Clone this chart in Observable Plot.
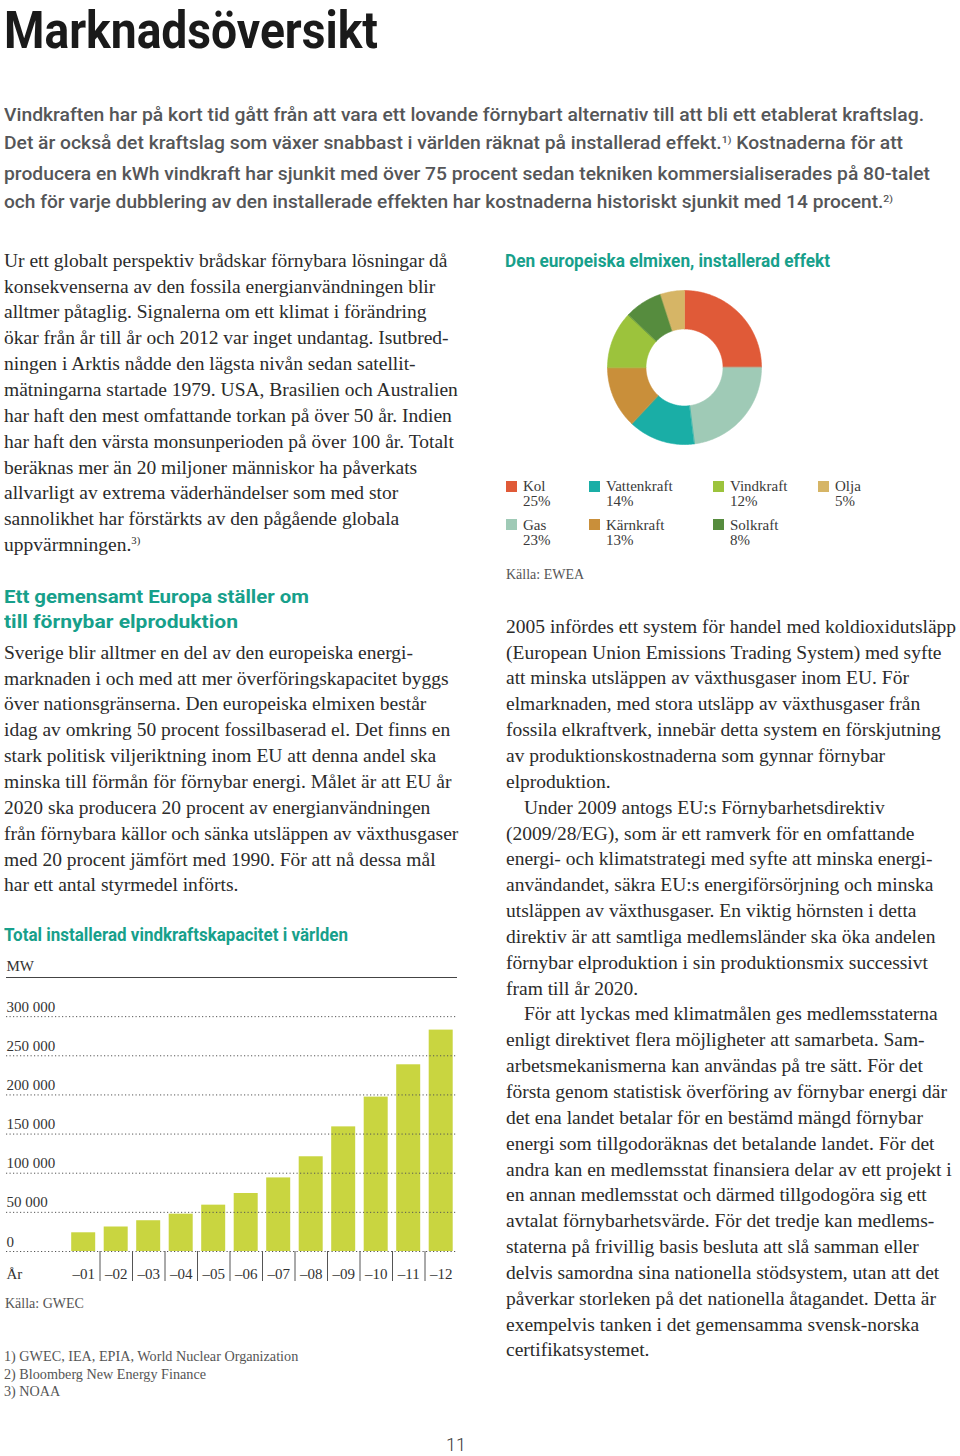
<!DOCTYPE html>
<html><head><meta charset="utf-8">
<script src="https://cdn.jsdelivr.net/npm/d3@7"></script>
<script src="https://cdn.jsdelivr.net/npm/@observablehq/plot@0.6"></script>
<style>
body{margin:0;background:#fff;}
#page{position:relative;width:960px;height:1456px;overflow:hidden;background:#fff;}
.abs{position:absolute;}
.serif{font-family:"Liberation Serif","Times New Roman",serif;color:#2b2b2b;}
.body{font-size:19.5px;line-height:25.85px;}
.body div{white-space:nowrap;}
.sans{font-family:"Liberation Sans Narrow","Roboto","Liberation Sans",sans-serif;}
.fit{display:inline-block;white-space:nowrap;transform-origin:0 0;}
.head{color:#17a08b;font-weight:700;font-size:18px;line-height:25.6px;}
.sup{font-size:0.55em;position:relative;top:-0.65em;}
.small{font-size:14.5px;line-height:17.4px;color:#555;}
</style></head>
<body><div id="page">
<div class="abs sans" style="left:4px;top:11.2px;font-size:52px;line-height:40px;font-weight:700;color:#1a1a1a;"><span class="fit" data-w="374">Marknadsöversikt</span></div>
<div class="abs sans" id="intro" style="left:4px;top:100.6px;font-size:17.5px;line-height:28.2px;font-weight:500;color:#555658;">
<div><span class="fit" data-w="920">Vindkraften har på kort tid gått från att vara ett lovande förnybart alternativ till att bli ett etablerat kraftslag.</span></div>
<div><span class="fit" data-w="899">Det är också det kraftslag som växer snabbast i världen räknat på installerad effekt.<span class="sup">1)</span> Kostnaderna för att</span></div>
<div><span class="fit" data-w="926">producera en kWh vindkraft har sjunkit med över 75 procent sedan tekniken kommersialiserades på 80-talet</span></div>
<div><span class="fit" data-w="889">och för varje dubblering av den installerade effekten har kostnaderna historiskt sjunkit med 14 procent.<span class="sup">2)</span></span></div>
</div>

<div class="abs serif body" style="left:4px;top:247.8px;">
<div>Ur ett globalt perspektiv brådskar förnybara lösningar då</div>
<div>konsekvenserna av den fossila energianvändningen blir</div>
<div>alltmer påtaglig. Signalerna om ett klimat i förändring</div>
<div>ökar från år till år och 2012 var inget undantag. Isutbred-</div>
<div>ningen i Arktis nådde den lägsta nivån sedan satellit-</div>
<div>mätningarna startade 1979. USA, Brasilien och Australien</div>
<div>har haft den mest omfattande torkan på över 50 år. Indien</div>
<div>har haft den värsta monsunperioden på över 100 år. Totalt</div>
<div>beräknas mer än 20 miljoner människor ha påverkats</div>
<div>allvarligt av extrema väderhändelser som med stor</div>
<div>sannolikhet har förstärkts av den pågående globala</div>
<div>uppvärmningen.<span class="sup">3)</span></div>
</div>

<div class="abs sans head" style="left:4px;top:583.8px;">
<div><span class="fit" data-w="305">Ett gemensamt Europa ställer om</span></div>
<div><span class="fit" data-w="234">till förnybar elproduktion</span></div>
</div>
<div class="abs serif body" style="left:4px;top:639.8px;">
<div>Sverige blir alltmer en del av den europeiska energi-</div>
<div>marknaden i och med att mer överföringskapacitet byggs</div>
<div>över nationsgränserna. Den europeiska elmixen består</div>
<div>idag av omkring 50 procent fossilbaserad el. Det finns en</div>
<div>stark politisk viljeriktning inom EU att denna andel ska</div>
<div>minska till förmån för förnybar energi. Målet är att EU år</div>
<div>2020 ska producera 20 procent av energianvändningen</div>
<div>från förnybara källor och sänka utsläppen av växthusgaser</div>
<div>med 20 procent jämfört med 1990. För att nå dessa mål</div>
<div>har ett antal styrmedel införts.</div>
</div>

<div class="abs sans head" style="left:4px;top:921.8px;"><span class="fit" data-w="344">Total installerad vindkraftskapacitet i världen</span></div>
<div class="abs" id="bars" style="left:0;top:950px;"></div>
<div class="abs serif small" style="left:5px;top:1296.4px;font-size:14px;line-height:16px;">Källa: GWEC</div>

<div class="abs serif small" style="left:4px;top:1348.1px;font-size:14.2px;">
<div>1) GWEC, IEA, EPIA, World Nuclear Organization</div>
<div>2) Bloomberg New Energy Finance</div>
<div>3) NOAA</div>
</div>

<div class="abs sans head" style="left:505px;top:247.8px;"><span class="fit" data-w="325">Den europeiska elmixen, installerad effekt</span></div>
<div class="abs" id="donut" style="left:599px;top:281.5px;"></div>
<div class="abs" id="legend" style="left:0;top:0;"></div>
<div class="abs serif small" style="left:506px;top:566.6px;font-size:14px;line-height:16px;">Källa: EWEA</div>

<div class="abs serif body" style="left:506px;top:613.8px;">
<div>2005 infördes ett system för handel med koldioxidutsläpp</div>
<div>(European Union Emissions Trading System) med syfte</div>
<div>att minska utsläppen av växthusgaser inom EU. För</div>
<div>elmarknaden, med stora utsläpp av växthusgaser från</div>
<div>fossila elkraftverk, innebär detta system en förskjutning</div>
<div>av produktionskostnaderna som gynnar förnybar</div>
<div>elproduktion.</div>
<div style="text-indent:18px">Under 2009 antogs EU:s Förnybarhetsdirektiv</div>
<div>(2009/28/EG), som är ett ramverk för en omfattande</div>
<div>energi- och klimatstrategi med syfte att minska energi-</div>
<div>användandet, säkra EU:s energiförsörjning och minska</div>
<div>utsläppen av växthusgaser. En viktig hörnsten i detta</div>
<div>direktiv är att samtliga medlemsländer ska öka andelen</div>
<div>förnybar elproduktion i sin produktionsmix successivt</div>
<div>fram till år 2020.</div>
<div style="text-indent:18px">För att lyckas med klimatmålen ges medlemsstaterna</div>
<div>enligt direktivet flera möjligheter att samarbeta. Sam-</div>
<div>arbetsmekanismerna kan användas på tre sätt. För det</div>
<div>första genom statistisk överföring av förnybar energi där</div>
<div>det ena landet betalar för en bestämd mängd förnybar</div>
<div>energi som tillgodoräknas det betalande landet. För det</div>
<div>andra kan en medlemsstat finansiera delar av ett projekt i</div>
<div>en annan medlemsstat och därmed tillgodogöra sig ett</div>
<div>avtalat förnybarhetsvärde. För det tredje kan medlems-</div>
<div>staterna på frivillig basis besluta att slå samman eller</div>
<div>delvis samordna sina nationella stödsystem, utan att det</div>
<div>påverkar storleken på det nationella åtagandet. Detta är</div>
<div>exempelvis tanken i det gemensamma svensk-norska</div>
<div>certifikatsystemet.</div>
</div>

<div class="abs" style="left:446px;top:1438.2px;font-family:Roboto,sans-serif;font-weight:300;font-size:18px;line-height:13px;color:#333;">11</div>
</div>

<script>
// ---- Data: world installed wind capacity (MW) ----
const years = [2001, 2002, 2003, 2004, 2005, 2006, 2007, 2008, 2009, 2010, 2011, 2012];
const yearLabels = ["–01", "–02", "–03", "–04", "–05", "–06", "–07", "–08", "–09", "–10", "–11", "–12"];
const capacityMW = [23900, 31300, 39300, 47700, 59200, 74100, 94000, 121000, 159200, 197200, 238500, 282800];
const yTicks = [0, 50000, 100000, 150000, 200000, 250000, 300000];
const yTop = 350000;

// ---- Data: European electricity mix, installed capacity (%) ----
const mixNames = ["Kol", "Gas", "Vattenkraft", "Kärnkraft", "Vindkraft", "Solkraft", "Olja"];
const mixShares = [25, 23, 14, 13, 12, 8, 5];
const mixColors = ["#e05a38", "#9fcab6", "#1aaea6", "#c98f3a", "#9cc33c", "#568c3e", "#d6b566"];

// fit sans lines to widths
document.querySelectorAll("[data-w]").forEach(el => {
  const w = el.getBoundingClientRect().width;
  el.style.transform = `scaleX(${(+el.dataset.w) / w})`;
});

// ---- Bar chart ----
const fmt = d3.formatLocale({thousands: " ", grouping: [3], decimal: ",", currency: ["", ""]}).format(",");
const barData = years.map((y, i) => ({year: y, label: yearLabels[i], value: capacityMW[i]}));
const bars = Plot.plot({
  width: 460, height: 340,
  marginTop: 27, marginBottom: 39, marginLeft: 6, marginRight: 3,
  style: {fontFamily: "Liberation Serif, serif", fontSize: "15px", color: "#333", background: "transparent"},
  x: {type: "linear", domain: [years[0], years[years.length - 1] + 1], range: [67, 457], axis: null},
  y: {domain: [0, yTop], axis: null},
  marks: [
    Plot.rectY(barData, {x1: "year", x2: d => d.year + 1, y: "value", fill: "#c9d540", insetLeft: 4.2, insetRight: 4.3}),
    Plot.ruleY(yTicks, {stroke: "#555", strokeDasharray: "1.2,2.3", strokeWidth: 1}),
    Plot.ruleY([yTop], {stroke: "#444", strokeWidth: 1}),
    Plot.ruleX(years.slice(1), {y1: 0, y2: 0, insetBottom: -30, stroke: "#555", strokeWidth: 1}),
    Plot.text(yTicks, {y: d => d, text: d => fmt(d), frameAnchor: "left", textAnchor: "start", lineAnchor: "bottom", dy: -5, fill: "#333"}),
    Plot.text(["MW"], {y: () => yTop, text: d => d, frameAnchor: "left", textAnchor: "start", lineAnchor: "bottom", dy: -7, fill: "#333"}),
    Plot.text(barData, {x: d => d.year + 0.5, y: () => 0, text: "label", lineAnchor: "bottom", dy: 27, fill: "#333"}),
    Plot.text(["År"], {y: () => 0, text: d => d, frameAnchor: "left", textAnchor: "start", lineAnchor: "bottom", dy: 27, fill: "#333"})
  ]
});
document.getElementById("bars").appendChild(bars);

// ---- Donut chart ----
const INNER = 0.5;
const total = d3.sum(mixShares);
const pts = [];
let acc = 0;
mixNames.forEach((name, i) => {
  const a0 = acc / total * 2 * Math.PI;
  acc += mixShares[i];
  const a1 = acc / total * 2 * Math.PI;
  const n = Math.max(2, Math.ceil((a1 - a0) / 0.02));
  for (let k = 0; k <= n; k++) { const a = a0 + (a1 - a0) * k / n; pts.push({name, x: Math.sin(a), y: Math.cos(a)}); }
  for (let k = n; k >= 0; k--) { const a = a0 + (a1 - a0) * k / n; pts.push({name, x: INNER * Math.sin(a), y: INNER * Math.cos(a)}); }
});
const donut = Plot.plot({
  width: 170, height: 170, marginTop: 8, marginBottom: 8, marginLeft: 8, marginRight: 8,
  style: {background: "transparent"},
  x: {domain: [-1, 1], axis: null},
  y: {domain: [-1, 1], axis: null},
  color: {domain: mixNames, range: mixColors},
  marks: [
    Plot.line(pts, {x: "x", y: "y", z: "name", fill: "name", stroke: "name", strokeWidth: 0.6, curve: "linear-closed"})
  ]
});
document.getElementById("donut").appendChild(donut);

// ---- Legend ----
const legendX = [506, 589, 713, 818];
const legendTop = [479.1, 517.6];
const legend = document.getElementById("legend");
mixNames.forEach((name, i) => {
  const col = Math.floor(i / 2), row = i % 2;
  const item = document.createElement("div");
  item.className = "abs serif";
  item.style.cssText = `left:${legendX[col]}px;top:${legendTop[row]}px;font-size:15px;line-height:15.3px;color:#3a3a3a;`;
  item.innerHTML = `<div class="abs" style="left:0;top:1.6px;width:11px;height:11px;background:${mixColors[i]}"></div>` +
    `<div style="margin-left:17px;white-space:nowrap">${name}<br>${mixShares[i]}%</div>`;
  legend.appendChild(item);
});
</script>
</body></html>
